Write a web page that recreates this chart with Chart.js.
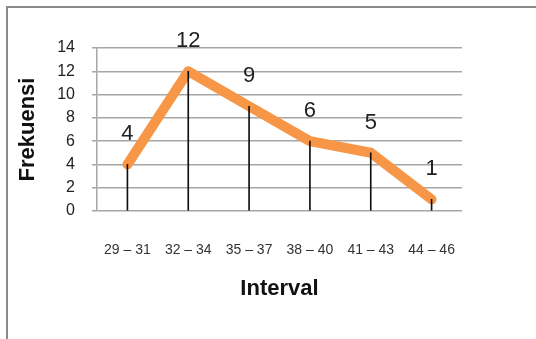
<!DOCTYPE html>
<html>
<head>
<meta charset="utf-8">
<script src="https://cdn.jsdelivr.net/npm/chart.js@4"></script>
<style>
  body { margin: 0; background: #fff; }
  #wrap { position: relative; width: 536px; height: 339px; overflow: hidden; }
  #frame { position: absolute; left: 6px; top: 6px; width: 600px; height: 400px;
           border-left: 2px solid #8a8a8a; border-top: 2px solid #8a8a8a; }
  canvas { position: absolute; left: 0; top: 0; }
</style>
</head>
<body>
<div id="wrap">
  <div id="frame"></div>
  <canvas id="chart" width="536" height="339"></canvas>
</div>
<script>
// data
const intervals = ['29 – 31', '32 – 34', '35 – 37', '38 – 40', '41 – 43', '44 – 46'];
const frekuensi = [4, 12, 9, 6, 5, 1];
const yTicks = [0, 2, 4, 6, 8, 10, 12, 14];

const FONT = "'Liberation Sans', Arial, sans-serif";

// value labels above each point
const pointLabels = {
  id: 'pointLabels',
  afterDatasetsDraw(chart) {
    const meta = chart.getDatasetMeta(0);
    const ctx = chart.ctx;
    ctx.save();
    ctx.font = '22px ' + FONT;
    ctx.fillStyle = '#222';
    ctx.textAlign = 'center';
    ctx.textBaseline = 'middle';
    meta.data.forEach((pt, i) => {
      ctx.fillText(String(frekuensi[i]), pt.x, pt.y - 30);
    });
    ctx.restore();
  }
};

new Chart(document.getElementById('chart'), {
  data: {
    labels: intervals,
    datasets: [
      {
        type: 'line',
        data: frekuensi,
        borderColor: '#F79646',
        borderWidth: 10,
        borderCapStyle: 'round',
        borderJoinStyle: 'round',
        pointRadius: 0,
        tension: 0,
        order: 1
      },
      {
        // thin drop lines from each point down to the axis
        type: 'bar',
        data: frekuensi,
        backgroundColor: '#111',
        barThickness: 1,
        order: 0
      }
    ]
  },
  options: {
    responsive: false,
    animation: false,
    layout: { padding: { top: 48, right: 74, left: 0, bottom: 0 } },
    plugins: { legend: { display: false }, tooltip: { enabled: false } },
    scales: {
      x: {
        offset: true,
        grid: { display: false },
        border: { display: false },
        ticks: { color: '#333', font: { family: FONT, size: 14 }, padding: 23, maxRotation: 0 },
        title: {
          display: true, text: 'Interval', color: '#111',
          font: { family: FONT, size: 22, weight: 'bold' },
          padding: { top: 0, bottom: 37 }
        },
        afterFit(scale) { scale.height = 128; }
      },
      y: {
        min: 0,
        max: 14,
        afterBuildTicks(scale) { scale.ticks = yTicks.map(v => ({ value: v })); },
        grid: { color: '#a6a6a6', lineWidth: 1.5, tickLength: 5 },
        border: { color: '#a6a6a6', width: 1.5 },
        ticks: { color: '#222', font: { family: FONT, size: 16 }, padding: 17 },
        title: {
          display: true, text: 'Frekuensi', color: '#111',
          font: { family: FONT, size: 22, weight: 'bold' },
          padding: { top: 15, bottom: 0 }
        },
        afterFit(scale) { scale.width = 97; }
      }
    }
  },
  plugins: [pointLabels]
});
</script>
</body>
</html>
